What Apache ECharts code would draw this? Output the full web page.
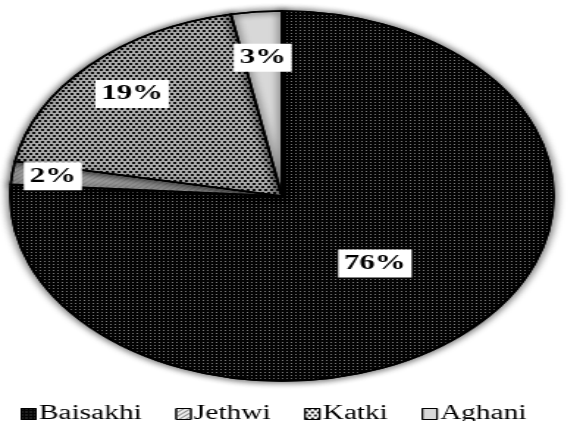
<!DOCTYPE html>
<html>
<head>
<meta charset="utf-8">
<script src="https://cdn.jsdelivr.net/npm/echarts@6/dist/echarts.min.js"></script>
<style>
html,body{margin:0;padding:0;background:#fff;overflow:hidden;width:580px;height:421px;}
#c{width:395px;height:421px;transform:scaleX(1.4684);transform-origin:0 0;}
</style>
</head>
<body>
<div id="c"></div>
<script>
// Data
var categories = ['Baisakhi', 'Jethwi', 'Katki', 'Aghani'];
var values = [76, 2, 19, 3];
var labelTexts = ['76%', '2%', '19%', '3%'];

// Styling (not data)
var fills = ['#050505', '#ececec', '#ffffff', '#d8d8d8'];
var decals = [
  {symbol:'rect', symbolSize:1, color:'#7a7a7a', dashArrayX:[1,2], dashArrayY:[1,2]},
  {symbol:'rect', symbolSize:1, color:'#8a8a8a', dashArrayX:[[1,0]], dashArrayY:[1,2], rotation:-0.7},
  {symbol:'rect', symbolSize:1, color:'#111', dashArrayX:[[2,2],[0,2,2,0]], dashArrayY:[2,1]},
  {symbol:'rect', symbolSize:1, color:'#8a8a8a', dashArrayX:[1,1.5], dashArrayY:[[1,0]]}
];
var labelRadiusFrac = [0.5, 0.85, 0.78, 0.75];
var CX = 192, CY = 196, R = 185;

var total = values.reduce(function(a,b){return a+b;},0);
var cum = [];
var acc = 0;
values.forEach(function(v){ cum.push(acc + v/2); acc += v; });

var chart = echarts.init(document.getElementById('c'), null, {renderer:'canvas'});
chart.setOption({
  backgroundColor:'#fff',
  animation:false,
  legend:{
    data:categories,
    left:9,
    top:399,
    itemWidth:10,
    itemHeight:11,
    itemGap:23,
    icon:'rect',
    itemStyle:{borderColor:'#000', borderWidth:1},
    textStyle:{fontFamily:'Liberation Serif', fontSize:20, color:'#000', padding:[0,0,0,-3]}
  },
  series:[{
    type:'pie',
    center:[CX, CY],
    radius:[0, R],
    startAngle:90,
    clockwise:true,
    avoidLabelOverlap:false,
    itemStyle:{borderColor:'#000', borderWidth:1.6, shadowBlur:6, shadowColor:'rgba(0,0,0,0.35)'},
    label:{
      show:true,
      position:'inside',
      formatter:function(p){return labelTexts[p.dataIndex];},
      fontFamily:'Liberation Serif',
      fontWeight:'bold',
      fontSize:21,
      lineHeight:22,
      color:'#000',
      backgroundColor:'#fff',
      padding:[3,4]
    },
    labelLine:{show:false},
    labelLayout:function(p){
      var i = p.dataIndex;
      var a = cum[i]/total*2*Math.PI;
      var f = labelRadiusFrac[i];
      return {x: CX + f*R*Math.sin(a), y: CY - f*R*Math.cos(a), align:'center', verticalAlign:'middle'};
    },
    emphasis:{disabled:true},
    data:categories.map(function(n,i){
      return {name:n, value:values[i], itemStyle:{color:fills[i], decal:decals[i]}};
    })
  }]
});
</script>
</body>
</html>
